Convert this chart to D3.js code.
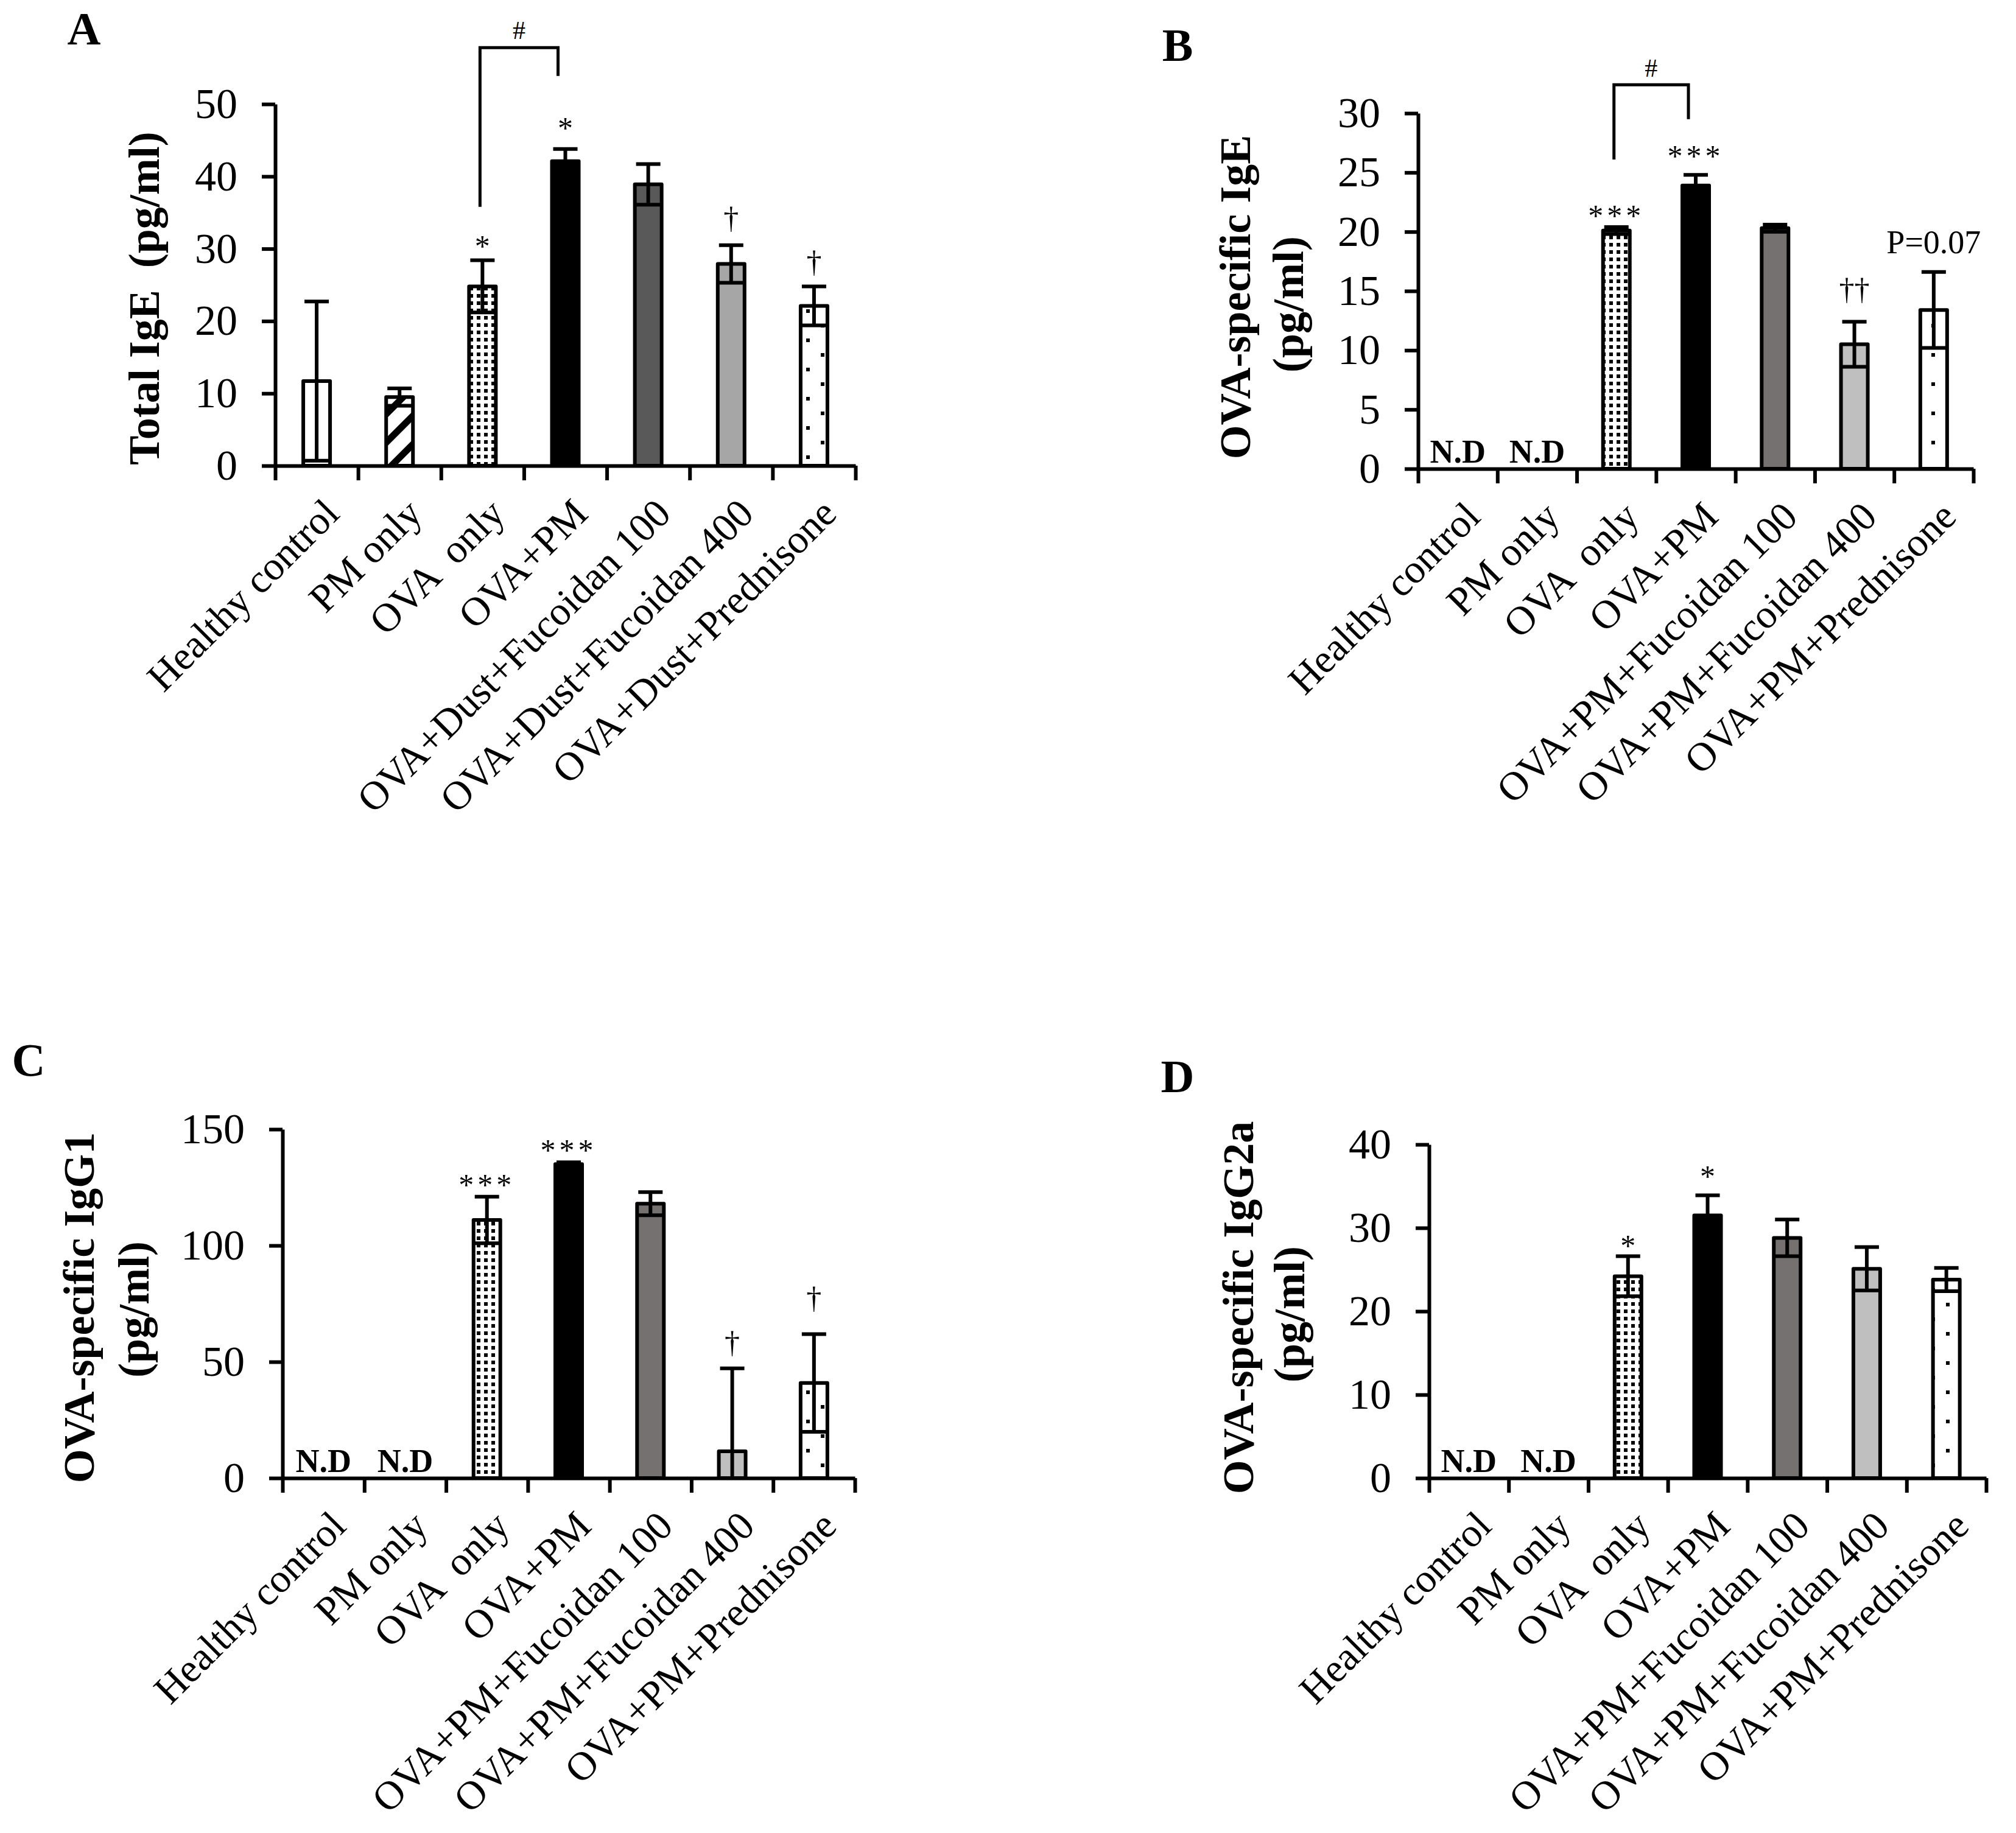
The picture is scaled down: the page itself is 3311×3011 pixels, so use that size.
<!DOCTYPE html>
<html>
<head>
<meta charset="utf-8">
<script src="https://cdn.jsdelivr.net/npm/d3@7"></script>
<style>
  body { margin: 0; background: #fff; }
  text { font-family: "Liberation Serif", "Times New Roman", serif; fill: #000; }
</style>
</head>
<body>
<script>
// categories
const groupsA = ["Healthy control", "PM only", "OVA  only", "OVA+PM",
  "OVA+Dust+Fucoidan 100", "OVA+Dust+Fucoidan 400", "OVA+Dust+Prednisone"];
const groupsPM = ["Healthy control", "PM only", "OVA  only", "OVA+PM",
  "OVA+PM+Fucoidan 100", "OVA+PM+Fucoidan 400", "OVA+PM+Prednisone"];

// values (null = N.D) and error bars
const totalIgE = [11.7, 9.5, 24.8, 42.1, 38.9, 27.9, 22.1];
const totalIgEErr = [11.0, 1.2, 3.6, 1.7, 2.8, 2.6, 2.7];
const ovaIgE = [null, null, 20.1, 23.9, 20.3, 10.5, 13.4];
const ovaIgEErr = [0, 0, 0.3, 0.9, 0.3, 1.9, 3.2];
const ovaIgG1 = [null, null, 111, 135, 118, 11.5, 40.9];
const ovaIgG1Err = [0, 0, 10, 0.8, 5, 35.7, 21];
const ovaIgG2a = [null, null, 24.2, 31.5, 28.8, 25.1, 23.8];
const ovaIgG2aErr = [0, 0, 2.4, 2.4, 2.2, 2.6, 1.4];

// tick labels
const ticksA = [0, 10, 20, 30, 40, 50];
const ticksB = [0, 5, 10, 15, 20, 25, 30];
const ticksC = [0, 50, 100, 150];
const ticksD = [0, 10, 20, 30, 40];

// significance marks: group index, label, height of the mark centre (data units)
const marksA = [[2, "*", 31.1], [3, "*", 47.4], [5, "†", 34.0], [6, "†", 27.9]];
const marksB = [[2, "***", 21.8], [3, "***", 26.8], [5, "††", 15.0], [6, "P=0.07", 19.1]];
const marksC = [[2, "***", 128.4], [3, "***", 143.3], [5, "†", 57.5], [6, "†", 76.6]];
const marksD = [[2, "*", 28.5], [3, "*", 36.8]];

// # brackets: from group, to group, left foot, top, right foot, # height
const bracketA = [2, 3, 35.8, 57.8, 53.9, 60.2];
const bracketB = [2, 3, 26.1, 32.4, 29.5, 33.8];

const fillsA = ["#fff", "url(#stripe)", "url(#dots)", "#000", "#595959", "#a6a6a6", "url(#sparse)"];
const fillsPM = ["#fff", "url(#stripe)", "url(#dots)", "#000", "#767171", "#bfbfbf", "url(#sparse)"];

const svg = d3.select("body").append("svg")
  .attr("width", 3311)
  .attr("height", 3011);

svg.append("rect").attr("width", 3311).attr("height", 3011).attr("fill", "#fff");

const defs = svg.append("defs");

const stripe = defs.append("pattern")
  .attr("id", "stripe")
  .attr("patternUnits", "userSpaceOnUse")
  .attr("width", 33).attr("height", 33)
  .attr("patternTransform", "rotate(45)");
stripe.append("rect").attr("width", 33).attr("height", 33).attr("fill", "#fff");
stripe.append("rect").attr("width", 11).attr("height", 33).attr("fill", "#000");

const dots = defs.append("pattern")
  .attr("id", "dots")
  .attr("patternUnits", "userSpaceOnUse")
  .attr("width", 12).attr("height", 12);
dots.append("rect").attr("width", 12).attr("height", 12).attr("fill", "#fff");
dots.append("rect").attr("x", 3).attr("y", 3).attr("width", 6).attr("height", 6).attr("fill", "#000");

const sparse = defs.append("pattern")
  .attr("id", "sparse")
  .attr("patternUnits", "userSpaceOnUse")
  .attr("width", 48).attr("height", 48);
sparse.append("rect").attr("width", 48).attr("height", 48).attr("fill", "#fff");
sparse.append("rect").attr("x", 4).attr("y", 4).attr("width", 6).attr("height", 6).attr("fill", "#000");
sparse.append("rect").attr("x", 28).attr("y", 28).attr("width", 6).attr("height", 6).attr("fill", "#000");

const panels = [
  {
    letter: "A", lx: 138, ly: 47,
    x0: 452, x1: 1405, base: 765, top: 171, max: 50, ticks: ticksA,
    groups: groupsA, values: totalIgE, errors: totalIgEErr, fills: fillsA,
    marks: marksA, bracket: bracketA,
    titles: [["Total IgE  (pg/ml)", 237, 490]]
  },
  {
    letter: "B", lx: 1934, ly: 74,
    x0: 2329, x1: 3241, base: 770, top: 186, max: 30, ticks: ticksB,
    groups: groupsPM, values: ovaIgE, errors: ovaIgEErr, fills: fillsPM,
    marks: marksB, bracket: bracketB,
    titles: [["OVA-specific IgE", 2029, 488], ["(pg/ml)", 2116, 500]]
  },
  {
    letter: "C", lx: 47, ly: 1741,
    x0: 464, x1: 1404, base: 2428, top: 1855, max: 150, ticks: ticksC,
    groups: groupsPM, values: ovaIgG1, errors: ovaIgG1Err, fills: fillsPM,
    marks: marksC, bracket: null,
    titles: [["OVA-specific IgG1", 130, 2148], ["(pg/ml)", 220, 2151]]
  },
  {
    letter: "D", lx: 1934, ly: 1768,
    x0: 2347, x1: 3262, base: 2428, top: 1880, max: 40, ticks: ticksD,
    groups: groupsPM, values: ovaIgG2a, errors: ovaIgG2aErr, fills: fillsPM,
    marks: marksD, bracket: null,
    titles: [["OVA-specific IgG2a", 2034, 2148], ["(pg/ml)", 2118, 2159]]
  }
];

panels.forEach(drawPanel);

function drawPanel(p) {
  const g = svg.append("g");
  const y = d3.scaleLinear().domain([0, p.max]).range([p.base, p.top]);
  const x = d3.scaleBand().domain(d3.range(p.groups.length)).range([p.x0, p.x1]);
  const edges = d3.scaleLinear().domain([0, p.groups.length]).range([p.x0, p.x1]);
  const cx = (i) => x(i) + x.bandwidth() / 2;
  const barW = 44;
  const capW = 40;

  // panel letter
  g.append("text")
    .attr("x", p.lx).attr("y", p.ly)
    .attr("text-anchor", "middle")
    .attr("dominant-baseline", "central")
    .attr("font-size", 76).attr("font-weight", "bold")
    .text(p.letter);

  // y title
  p.titles.forEach(([t, tx, ty]) => {
    g.append("text")
      .attr("transform", `translate(${tx},${ty}) rotate(-90)`)
      .attr("text-anchor", "middle")
      .attr("dominant-baseline", "central")
      .attr("font-size", 72).attr("font-weight", "bold")
      .style("white-space", "pre")
      .text(t);
  });

  // bars
  const bars = p.values.map((v, i) => ({ v, e: p.errors[i], i })).filter((d) => d.v !== null);
  g.append("g").selectAll("rect")
    .data(bars)
    .join("rect")
    .attr("x", (d) => cx(d.i) - barW / 2)
    .attr("y", (d) => y(d.v))
    .attr("width", barW)
    .attr("height", (d) => y(0) - y(d.v))
    .attr("fill", (d) => p.fills[d.i])
    .attr("stroke", "#000")
    .attr("stroke-width", 6)
    .attr("stroke-linejoin", "round");

  // error bars
  const errs = g.append("g").attr("stroke", "#000").attr("stroke-width", 6);
  bars.filter((d) => d.e > 0).forEach((d) => {
    const hi = y(d.v + d.e);
    const lo = y(Math.max(0, d.v - d.e));
    errs.append("line").attr("x1", cx(d.i)).attr("x2", cx(d.i)).attr("y1", lo).attr("y2", hi);
    errs.append("line").attr("x1", cx(d.i) - capW / 2).attr("x2", cx(d.i) + capW / 2).attr("y1", hi).attr("y2", hi);
    errs.append("line").attr("x1", cx(d.i) - capW / 2).attr("x2", cx(d.i) + capW / 2).attr("y1", lo).attr("y2", lo);
  });

  // N.D
  g.append("g").selectAll("text")
    .data(p.values.map((v, i) => ({ v, i })).filter((d) => d.v === null))
    .join("text")
    .attr("x", (d) => cx(d.i))
    .attr("y", p.base - 10)
    .attr("text-anchor", "middle")
    .attr("font-size", 54).attr("font-weight", "bold")
    .text("N.D");

  // axes
  const yAxis = g.append("g")
    .attr("transform", `translate(${p.x0},0)`)
    .call(d3.axisLeft(y).tickValues(p.ticks).tickSize(22).tickSizeOuter(0).tickPadding(40));
  const xAxis = g.append("g")
    .attr("transform", `translate(0,${p.base})`)
    .call(d3.axisBottom(edges).tickValues(d3.range(p.groups.length + 1)).tickFormat("").tickSize(24).tickSizeOuter(0));
  [yAxis, xAxis].forEach((a) => {
    a.select(".domain").attr("stroke", "#000").attr("stroke-width", 6);
    a.selectAll(".tick line").attr("stroke", "#000").attr("stroke-width", 6);
    a.selectAll(".tick text")
      .attr("font-family", "'Liberation Serif', serif")
      .attr("font-size", 70)
      .attr("fill", "#000");
  });

  // category labels
  g.append("g").selectAll("text")
    .data(p.groups)
    .join("text")
    .attr("transform", (d, i) => `translate(${cx(i) + 24},${p.base + 66}) rotate(-45)`)
    .attr("text-anchor", "end")
    .attr("dy", "0.35em")
    .attr("font-size", 66)
    .style("white-space", "pre")
    .text((d) => d);

  // significance marks
  const dyFor = (t) => (t.startsWith("*") ? "0.5em" : t.startsWith("†") ? "0.27em" : "0.33em");
  g.append("g").selectAll("text")
    .data(p.marks)
    .join("text")
    .attr("x", (d) => cx(d[0]))
    .attr("y", (d) => y(d[2]))
    .attr("dy", (d) => dyFor(d[1]))
    .attr("text-anchor", "middle")
    .attr("font-size", (d) => (d[1].startsWith("P") ? 54 : 50))
    .attr("letter-spacing", (d) => (d[1] === "***" ? 6 : 0))
    .text((d) => d[1]);

  // # bracket
  if (p.bracket) {
    const [a, b, yl, yt, yr, yh] = p.bracket;
    const xl = cx(a) - 4;
    const xr = cx(b) - 12;
    g.append("path")
      .attr("d", d3.line()([[xl, y(yl)], [xl, y(yt)], [xr, y(yt)], [xr, y(yr)]]))
      .attr("fill", "none")
      .attr("stroke", "#000")
      .attr("stroke-width", 5);
    g.append("text")
      .attr("x", (xl + xr) / 2)
      .attr("y", y(yh))
      .attr("dy", "0.34em")
      .attr("text-anchor", "middle")
      .attr("font-size", 42)
      .text("#");
  }
}
</script>
</body>
</html>
